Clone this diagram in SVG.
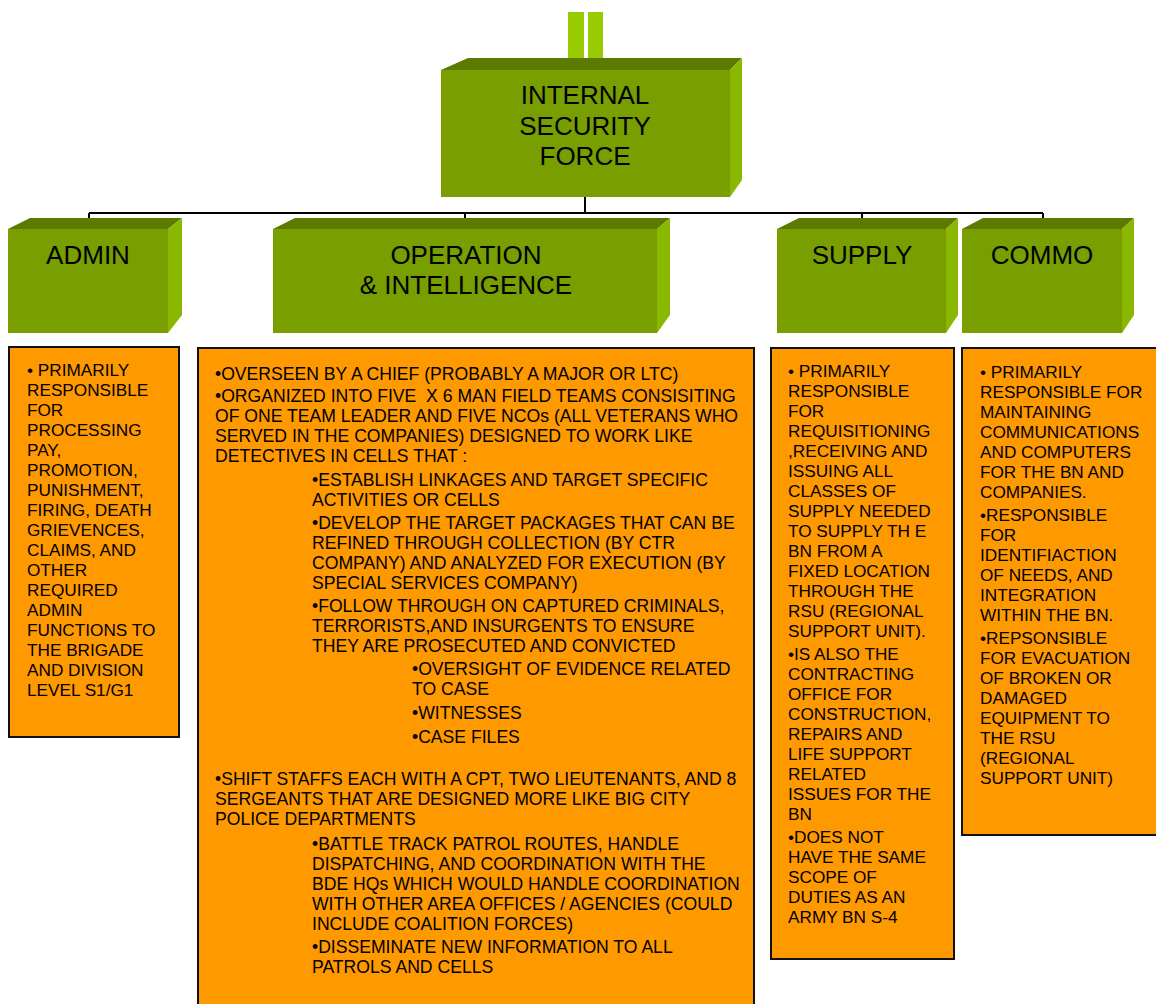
<svg xmlns="http://www.w3.org/2000/svg" width="1156" height="1004" viewBox="0 0 1156 1004">
<style>
.front{fill:#789E00}
.top{fill:#5C7A00}
.side{fill:#8AB800}
.bar{fill:#99CC00}
.head{font-family:"Liberation Sans",Arial,sans-serif;font-size:26px;fill:#000;text-anchor:middle}
.box{fill:#FF9900;stroke:#111;stroke-width:2}
.t{font-family:"Liberation Sans",Arial,sans-serif;font-size:17.2px;fill:#000;white-space:pre}
.op{font-size:17.6px}
.conn{stroke:#000;stroke-width:2;fill:none}
</style>
<rect width="1156" height="1004" fill="#fff"/>

<g id="connectors">
<path class="conn" d="M585,197 V213 M89,213 H1043 M89,213 V230 M465,213 V230 M862,213 V230 M1043,213 V230"/>
</g>

<g id="isf">
<rect class="bar" x="568" y="12" width="16" height="46"/>
<rect class="bar" x="588" y="12" width="15" height="46"/>
<polygon class="top" points="441,70 468,58 742,58 730,70"/>
<polygon class="side" points="730,70 742,58 742,180 730,197"/>
<rect class="front" x="441" y="70" width="289" height="127"/>
<text class="head" x="585" y="104">INTERNAL</text>
<text class="head" x="585" y="135">SECURITY</text>
<text class="head" x="585" y="165">FORCE</text>
</g>

<g id="admin">
<polygon class="top" points="8,229 30,218 182,218 168,229"/>
<polygon class="side" points="168,229 182,218 182,315 168,333"/>
<rect class="front" x="8" y="229" width="160" height="104"/>
<text class="head" x="88" y="264">ADMIN</text>
</g>

<g id="opintel">
<polygon class="top" points="273,229 295,218 670,218 657,229"/>
<polygon class="side" points="657,229 670,218 670,315 657,333"/>
<rect class="front" x="273" y="229" width="384" height="104"/>
<text class="head" x="466" y="264">OPERATION</text>
<text class="head" x="466" y="294">&amp; INTELLIGENCE</text>
</g>

<g id="supply">
<polygon class="top" points="777,229 799,218 958,218 946,229"/>
<polygon class="side" points="946,229 958,218 958,315 946,333"/>
<rect class="front" x="777" y="229" width="169" height="104"/>
<text class="head" x="862" y="264">SUPPLY</text>
</g>

<g id="commo">
<polygon class="top" points="962,229 983,218 1134,218 1122,229"/>
<polygon class="side" points="1122,229 1134,218 1134,315 1122,333"/>
<rect class="front" x="962" y="229" width="160" height="104"/>
<text class="head" x="1042" y="264">COMMO</text>
</g>

<g id="admin-detail">
<rect class="box" x="9" y="347" width="170" height="390"/>
<text class="t" x="27" y="376">• PRIMARILY</text>
<text class="t" x="27" y="396">RESPONSIBLE</text>
<text class="t" x="27" y="416">FOR</text>
<text class="t" x="27" y="436">PROCESSING</text>
<text class="t" x="27" y="456">PAY,</text>
<text class="t" x="27" y="476">PROMOTION,</text>
<text class="t" x="27" y="496">PUNISHMENT,</text>
<text class="t" x="27" y="516">FIRING, DEATH</text>
<text class="t" x="27" y="536">GRIEVENCES,</text>
<text class="t" x="27" y="556">CLAIMS, AND</text>
<text class="t" x="27" y="576">OTHER</text>
<text class="t" x="27" y="596">REQUIRED</text>
<text class="t" x="27" y="616">ADMIN</text>
<text class="t" x="27" y="636">FUNCTIONS TO</text>
<text class="t" x="27" y="656">THE BRIGADE</text>
<text class="t" x="27" y="676">AND DIVISION</text>
<text class="t" x="27" y="696">LEVEL S1/G1</text>
</g>

<g id="opintel-detail">
<rect class="box" x="198" y="348" width="556" height="670"/>
<text class="t op" x="215" y="380">•OVERSEEN BY A CHIEF (PROBABLY A MAJOR OR LTC)</text>
<text class="t op" x="215" y="402">•ORGANIZED INTO FIVE  X 6 MAN FIELD TEAMS CONSISITING</text>
<text class="t op" x="215" y="422">OF ONE TEAM LEADER AND FIVE NCOs (ALL VETERANS WHO</text>
<text class="t op" x="215" y="442">SERVED IN THE COMPANIES) DESIGNED TO WORK LIKE</text>
<text class="t op" x="215" y="462">DETECTIVES IN CELLS THAT :</text>
<text class="t op" x="312" y="486">•ESTABLISH LINKAGES AND TARGET SPECIFIC</text>
<text class="t op" x="312" y="506">ACTIVITIES OR CELLS</text>
<text class="t op" x="312" y="529">•DEVELOP THE TARGET PACKAGES THAT CAN BE</text>
<text class="t op" x="312" y="549">REFINED THROUGH COLLECTION (BY CTR</text>
<text class="t op" x="312" y="569">COMPANY) AND ANALYZED FOR EXECUTION (BY</text>
<text class="t op" x="312" y="589">SPECIAL SERVICES COMPANY)</text>
<text class="t op" x="312" y="612">•FOLLOW THROUGH ON CAPTURED CRIMINALS,</text>
<text class="t op" x="312" y="632">TERRORISTS,AND INSURGENTS TO ENSURE</text>
<text class="t op" x="312" y="652">THEY ARE PROSECUTED AND CONVICTED</text>
<text class="t op" x="412" y="675">•OVERSIGHT OF EVIDENCE RELATED</text>
<text class="t op" x="412" y="695">TO CASE</text>
<text class="t op" x="412" y="719">•WITNESSES</text>
<text class="t op" x="412" y="743">•CASE FILES</text>
<text class="t op" x="215" y="785">•SHIFT STAFFS EACH WITH A CPT, TWO LIEUTENANTS, AND 8</text>
<text class="t op" x="215" y="805">SERGEANTS THAT ARE DESIGNED MORE LIKE BIG CITY</text>
<text class="t op" x="215" y="825">POLICE DEPARTMENTS</text>
<text class="t op" x="312" y="850">•BATTLE TRACK PATROL ROUTES, HANDLE</text>
<text class="t op" x="312" y="870">DISPATCHING, AND COORDINATION WITH THE</text>
<text class="t op" x="312" y="890">BDE HQs WHICH WOULD HANDLE COORDINATION</text>
<text class="t op" x="312" y="910">WITH OTHER AREA OFFICES / AGENCIES (COULD</text>
<text class="t op" x="312" y="930">INCLUDE COALITION FORCES)</text>
<text class="t op" x="312" y="953">•DISSEMINATE NEW INFORMATION TO ALL</text>
<text class="t op" x="312" y="973">PATROLS AND CELLS</text>
</g>

<g id="supply-detail">
<rect class="box" x="771" y="348" width="183" height="611"/>
<text class="t" x="788" y="377">• PRIMARILY</text>
<text class="t" x="788" y="397">RESPONSIBLE</text>
<text class="t" x="788" y="417">FOR</text>
<text class="t" x="788" y="437">REQUISITIONING</text>
<text class="t" x="788" y="457">,RECEIVING AND</text>
<text class="t" x="788" y="477">ISSUING ALL</text>
<text class="t" x="788" y="497">CLASSES OF</text>
<text class="t" x="788" y="517">SUPPLY NEEDED</text>
<text class="t" x="788" y="537">TO SUPPLY TH E</text>
<text class="t" x="788" y="557">BN FROM A</text>
<text class="t" x="788" y="577">FIXED LOCATION</text>
<text class="t" x="788" y="597">THROUGH THE</text>
<text class="t" x="788" y="617">RSU (REGIONAL</text>
<text class="t" x="788" y="637">SUPPORT UNIT).</text>
<text class="t" x="788" y="660">•IS ALSO THE</text>
<text class="t" x="788" y="680">CONTRACTING</text>
<text class="t" x="788" y="700">OFFICE FOR</text>
<text class="t" x="788" y="720">CONSTRUCTION,</text>
<text class="t" x="788" y="740">REPAIRS AND</text>
<text class="t" x="788" y="760">LIFE SUPPORT</text>
<text class="t" x="788" y="780">RELATED</text>
<text class="t" x="788" y="800">ISSUES FOR THE</text>
<text class="t" x="788" y="820">BN</text>
<text class="t" x="788" y="843">•DOES NOT</text>
<text class="t" x="788" y="863">HAVE THE SAME</text>
<text class="t" x="788" y="883">SCOPE OF</text>
<text class="t" x="788" y="903">DUTIES AS AN</text>
<text class="t" x="788" y="923">ARMY BN S-4</text>
</g>

<g id="commo-detail">
<rect class="box" x="962" y="348" width="210" height="487"/>
<text class="t" x="980" y="378">• PRIMARILY</text>
<text class="t" x="980" y="398">RESPONSIBLE FOR</text>
<text class="t" x="980" y="418">MAINTAINING</text>
<text class="t" x="980" y="438">COMMUNICATIONS</text>
<text class="t" x="980" y="458">AND COMPUTERS</text>
<text class="t" x="980" y="478">FOR THE BN AND</text>
<text class="t" x="980" y="498">COMPANIES.</text>
<text class="t" x="980" y="521">•RESPONSIBLE</text>
<text class="t" x="980" y="541">FOR</text>
<text class="t" x="980" y="561">IDENTIFIACTION</text>
<text class="t" x="980" y="581">OF NEEDS, AND</text>
<text class="t" x="980" y="601">INTEGRATION</text>
<text class="t" x="980" y="621">WITHIN THE BN.</text>
<text class="t" x="980" y="644">•REPSONSIBLE</text>
<text class="t" x="980" y="664">FOR EVACUATION</text>
<text class="t" x="980" y="684">OF BROKEN OR</text>
<text class="t" x="980" y="704">DAMAGED</text>
<text class="t" x="980" y="724">EQUIPMENT TO</text>
<text class="t" x="980" y="744">THE RSU</text>
<text class="t" x="980" y="764">(REGIONAL</text>
<text class="t" x="980" y="784">SUPPORT UNIT)</text>
</g>
</svg>
